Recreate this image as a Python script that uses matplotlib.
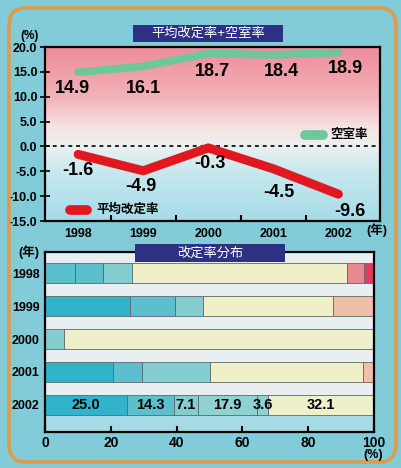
import numpy as np
import matplotlib
matplotlib.use('Agg')
import matplotlib.pyplot as plt
from matplotlib.patches import FancyBboxPatch, Rectangle

plt.rcParams['font.family'] = ['Liberation Sans', 'Noto Sans CJK JP']

# --- data ---
years = [1998, 1999, 2000, 2001, 2002]
vacancy = [14.9, 16.1, 18.7, 18.4, 18.9]       # 空室率
revision = [-1.6, -4.9, -0.3, -4.5, -9.6]      # 平均改定率

dist_years = ['1998', '1999', '2000', '2001', '2002']
dist_1998 = [9.1, 8.6, 8.8, 65.3, 5.2, 3.0]
dist_1999 = [25.9, 13.7, 8.5, 39.3, 12.6]
dist_2000 = [5.8, 94.2]
dist_2001 = [20.7, 8.9, 20.7, 46.3, 3.4]
dist_2002 = [25.0, 14.3, 7.1, 17.9, 3.6, 32.1]
dist_rows = [dist_1998, dist_1999, dist_2000, dist_2001, dist_2002]

# segment colours per row
c_deep, c_mid, c_light, c_pale = '#2fb4ca', '#5bbfcd', '#84cdd1', '#8ed2d3'
c_zero, c_peach, c_pink, c_red = '#eff0c9', '#efbfa9', '#ea8892', '#e43a62'
row_colors = [
    [c_mid, c_mid, c_light, c_zero, c_pink, c_red],
    [c_deep, c_mid, c_light, c_zero, c_peach],
    [c_light, c_zero],
    [c_deep, c_mid, c_light, c_zero, c_peach],
    [c_deep, c_mid, c_light, c_pale, c_pale, c_zero],
]

bg = '#82cbd9'
fig = plt.figure(figsize=(4.01, 4.68), dpi=100, facecolor=bg)
W, H = 401, 468

def fx(px):
    return px / W

def fy(py):
    return 1 - py / H

# orange frame
frame = FancyBboxPatch((fx(9), fy(462)), fx(387), 454 / H,
                       boxstyle='round,pad=0,rounding_size=0.04',
                       transform=fig.transFigure, facecolor='none',
                       edgecolor='#e29a45', linewidth=2.5, zorder=0)
fig.patches.append(frame)

# ---------- top chart ----------
ax = fig.add_axes([fx(45), fy(221), fx(335), 174 / H])
ax.set_xlim(1997.49, 2002.64)
ax.set_ylim(-15, 20)

# background gradient pink -> white -> light blue
yy = np.linspace(20, -15, 200)
stops_y = [-15, -5, 0, 4, 10, 20]
stops_c = np.array([[165, 220, 232], [200, 232, 238], [236, 241, 241],
                    [246, 226, 226], [242, 178, 184], [238, 140, 156]]) / 255
grad = np.stack([np.interp(yy, stops_y, stops_c[:, k]) for k in range(3)], axis=-1)
ax.imshow(grad[:, None, :], extent=[1997.49, 2002.64, -15, 20],
          aspect='auto', zorder=0)

ax.axhline(0, color='#222222', lw=1.4, ls=(0, (2, 2)), zorder=1)
ax.plot(years, vacancy, color='#6cc898', lw=5.5, solid_capstyle='round',
        solid_joinstyle='round', zorder=2)
ax.plot(years, revision, color='#e0181f', lw=6.5, solid_capstyle='round',
        solid_joinstyle='round', zorder=2)

vac_off = [(-6, -16), (0, -22), (4, -18), (8, -17), (7, -16)]
rev_off = [(0, -16), (-2, -16), (2, -16), (6, -24), (12, -17)]
for x, v, o in zip(years, vacancy, vac_off):
    ax.annotate(f'{v:.1f}', (x, v), xytext=o, textcoords='offset pixels',
                ha='center', va='center', fontsize=13, fontweight='bold')
for x, v, o in zip(years, revision, rev_off):
    ax.annotate(f'{v:.1f}', (x, v), xytext=o, textcoords='offset pixels',
                ha='center', va='center', fontsize=13, fontweight='bold')

# legend swatches
ax.plot([0.775, 0.83], [0.494, 0.494], transform=ax.transAxes, color='#6cc898',
        lw=7, solid_capstyle='round')
ax.text(0.852, 0.494, '空室率', transform=ax.transAxes, ha='left', va='center',
        fontsize=9, fontweight='bold')
ax.plot([0.075, 0.125], [0.063, 0.063], transform=ax.transAxes, color='#e0181f',
        lw=7, solid_capstyle='round')
ax.text(0.152, 0.063, '平均改定率', transform=ax.transAxes, ha='left', va='center',
        fontsize=9, fontweight='bold')

ax.set_yticks(np.arange(-15, 21, 5))
ax.set_yticklabels([f'{v:.1f}' for v in np.arange(-15, 21, 5)],
                   fontsize=9, fontweight='bold')
ax.set_xticks(years)
ax.set_xticklabels([str(y) for y in years], fontsize=9, fontweight='bold')
ax.set_xticks([1998.5, 1999.5, 2000.5, 2001.5], minor=True)
ax.tick_params(axis='x', which='major', length=0, pad=5)
ax.tick_params(axis='x', which='minor', direction='in', length=4, width=1.5)
ax.tick_params(axis='y', direction='inout', length=7, width=1.2, pad=2)
for s in ax.spines.values():
    s.set_linewidth(1.6)
ax.text(-0.045, 1.03, '(%)', transform=ax.transAxes, ha='center', va='bottom',
        fontsize=8.5, fontweight='bold')
ax.text(0.958, -0.055, '(年)', transform=ax.transAxes, ha='left', va='center',
        fontsize=9, fontweight='bold')

fig.patches.append(Rectangle((fx(133), fy(42)), fx(150), 17 / H,
                             transform=fig.transFigure, facecolor='#2c3184',
                             edgecolor='none', zorder=5))
fig.text(fx(208), fy(33.5), '平均改定率+空室率', color='white', ha='center',
         va='center', fontsize=9.5, zorder=6)

# ---------- bottom chart ----------
bx = fig.add_axes([fx(45), fy(432), fx(329), 180 / H])
bx.set_facecolor('#e9eff0')
bx.set_xlim(0, 100)
bx.set_ylim(4.82, -0.64)
bar_h = 0.63
bx.axhspan(4 + bar_h / 2, 4.82, color='#a6dbe5', zorder=0)

for i, (vals, cols) in enumerate(zip(dist_rows, row_colors)):
    left = 0
    for v, c in zip(vals, cols):
        bx.barh(i, v, left=left, height=bar_h, color=c, edgecolor='#5a6a6a',
                linewidth=0.6, zorder=2)
        left += v

left = 0
for v in dist_2002:
    bx.text(left + v / 2, 4, f'{v:.1f}', ha='center', va='center',
            fontsize=10.5, fontweight='bold', zorder=3)
    left += v

bx.set_yticks(range(len(dist_years)))
bx.set_yticklabels(dist_years, fontsize=9, fontweight='bold')
bx.tick_params(axis='y', length=0, pad=4)
bx.set_xticks([0, 20, 40, 60, 80, 100])
bx.set_xticklabels(['0', '20', '40', '60', '80', '100'], fontsize=10,
                   fontweight='bold')
bx.tick_params(axis='x', direction='in', length=4, width=1.5, pad=3)
for s in bx.spines.values():
    s.set_linewidth(1.6)
bx.text(-0.05, 1.0, '(年)', transform=bx.transAxes, ha='center', va='center',
        fontsize=9, fontweight='bold')
fig.text(fx(373), fy(455), '(%)', ha='center', va='center',
         fontsize=9, fontweight='bold', zorder=10)

fig.patches.append(Rectangle((fx(135), fy(262)), fx(150), 18 / H,
                             transform=fig.transFigure, facecolor='#2c3184',
                             edgecolor='none', zorder=5))
fig.text(fx(210), fy(253), '改定率分布', color='white', ha='center',
         va='center', fontsize=9.5, zorder=6)

fig.savefig('out.png', dpi=100, facecolor=bg)
